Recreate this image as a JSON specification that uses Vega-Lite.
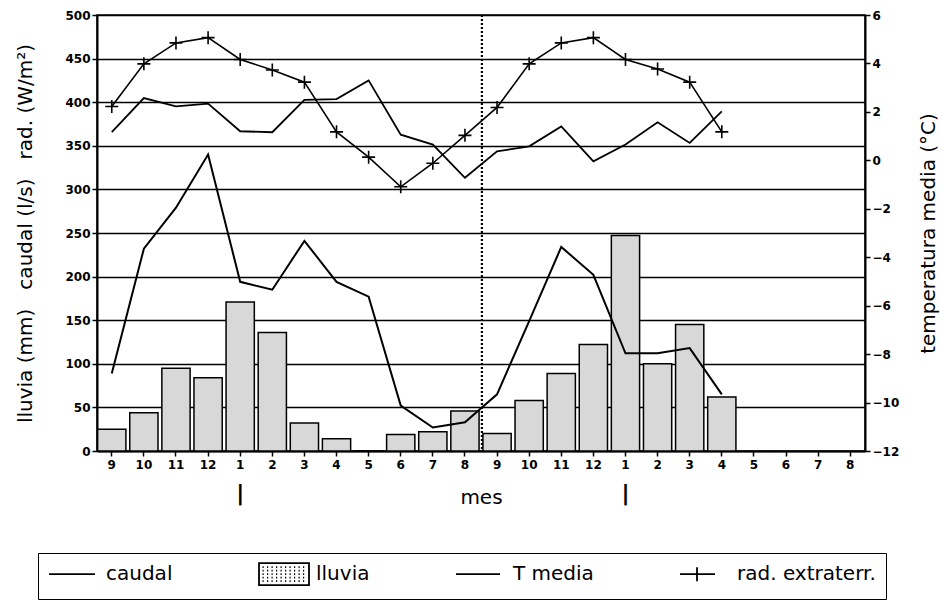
{
  "$schema": "https://vega.github.io/schema/vega-lite/v6.json",
  "width": 768,
  "height": 436,
  "autosize": {"type": "none"},
  "padding": {"left": 97, "top": 15, "right": 77, "bottom": 150},
  "datasets": {
    "d": [
      {"m": "9-a", "lluvia": 25, "caudal": 89, "tmedia": 1.16, "rad": 395},
      {"m": "10-a", "lluvia": 44, "caudal": 232, "tmedia": 2.57, "rad": 444},
      {"m": "11-a", "lluvia": 95, "caudal": 279, "tmedia": 2.23, "rad": 468},
      {"m": "12-a", "lluvia": 84, "caudal": 340, "tmedia": 2.34, "rad": 474},
      {"m": "1-a", "lluvia": 171, "caudal": 194, "tmedia": 1.2, "rad": 449},
      {"m": "2-a", "lluvia": 136, "caudal": 185, "tmedia": 1.16, "rad": 437},
      {"m": "3-a", "lluvia": 32, "caudal": 241, "tmedia": 2.5, "rad": 423},
      {"m": "4-a", "lluvia": 14, "caudal": 194, "tmedia": 2.53, "rad": 366},
      {"m": "5-a", "lluvia": 0, "caudal": 177, "tmedia": 3.3, "rad": 337},
      {"m": "6-a", "lluvia": 19, "caudal": 52, "tmedia": 1.06, "rad": 303},
      {"m": "7-a", "lluvia": 22, "caudal": 27, "tmedia": 0.65, "rad": 330},
      {"m": "8-a", "lluvia": 46, "caudal": 33, "tmedia": -0.72, "rad": 362},
      {"m": "9-b", "lluvia": 20, "caudal": 65, "tmedia": 0.37, "rad": 394},
      {"m": "10-b", "lluvia": 58, "caudal": 149, "tmedia": 0.58, "rad": 444},
      {"m": "11-b", "lluvia": 89, "caudal": 234, "tmedia": 1.4, "rad": 468},
      {"m": "12-b", "lluvia": 122, "caudal": 202, "tmedia": -0.04, "rad": 474},
      {"m": "1-b", "lluvia": 247, "caudal": 112, "tmedia": 0.65, "rad": 449},
      {"m": "2-b", "lluvia": 100, "caudal": 112, "tmedia": 1.57, "rad": 438},
      {"m": "3-b", "lluvia": 145, "caudal": 118, "tmedia": 0.72, "rad": 423},
      {"m": "4-b", "lluvia": 62, "caudal": 65, "tmedia": 2.02, "rad": 366}
    ],
    "leg": [
      {"serie": "caudal"},
      {"serie": "lluvia"},
      {"serie": "T media"},
      {"serie": "rad. extraterr."}
    ]
  },
  "data": {"name": "d"},
  "layer": [
    {
      "layer": [
        {
          "mark": {"type": "bar", "fill": "#d8d8d8", "stroke": "black", "strokeWidth": 1.5},
          "encoding": {
            "x": {
              "field": "m", "type": "ordinal",
              "scale": {"domain": ["9-a","10-a","11-a","12-a","1-a","2-a","3-a","4-a","5-a","6-a","7-a","8-a","9-b","10-b","11-b","12-b","1-b","2-b","3-b","4-b","5-b","6-b","7-b","8-b"], "paddingInner": 0.12, "paddingOuter": 0.02},
              "axis": {
                "title": "mes",
                "labelExpr": "split(datum.value, '-')[0]",
                "labelAngle": 0,
                "labelFontSize": 12,
                "labelFontWeight": "bold",
                "labelPadding": 3,
                "labelBaseline": "top",
                "tickSize": 5,
                "tickWidth": 1.5,
                "titleFontSize": 20,
                "titleFontWeight": "normal",
                "titleY": 46,
                "titleBaseline": "middle"
              }
            },
            "y": {
              "field": "lluvia", "type": "quantitative",
              "scale": {"domain": [0, 500], "nice": false, "zero": true},
              "axis": {
                "title": "lluvia (mm)\u00a0\u00a0 caudal (l/s)\u00a0\u00a0 rad. (W/m²)",
                "values": [0, 50, 100, 150, 200, 250, 300, 350, 400, 450, 500],
                "grid": true,
                "gridColor": "black",
                "gridWidth": 1.3,
                "gridOpacity": 1,
                "labelFontSize": 12,
                "labelFontWeight": "bold",
                "labelPadding": 2,
                "tickSize": 5,
                "tickWidth": 1.5,
                "titleFontSize": 20,
                "titleFontWeight": "normal",
                "titleAngle": 270,
                "titleX": -72,
                "titleBaseline": "middle"
              }
            }
          }
        },
        {
          "mark": {"type": "line", "color": "black", "strokeWidth": 2},
          "encoding": {
            "x": {"field": "m", "type": "ordinal"},
            "y": {"field": "caudal", "type": "quantitative", "title": "lluvia (mm)\u00a0\u00a0 caudal (l/s)\u00a0\u00a0 rad. (W/m²)"}
          }
        },
        {
          "mark": {"type": "line", "color": "black", "strokeWidth": 1.6},
          "encoding": {
            "x": {"field": "m", "type": "ordinal"},
            "y": {"field": "rad", "type": "quantitative", "title": "lluvia (mm)\u00a0\u00a0 caudal (l/s)\u00a0\u00a0 rad. (W/m²)"}
          }
        },
        {
          "mark": {"type": "point", "shape": "M-1,0H1M0,-1V1", "size": 169, "filled": false, "stroke": "black", "strokeWidth": 1.6, "opacity": 1},
          "encoding": {
            "x": {"field": "m", "type": "ordinal"},
            "y": {"field": "rad", "type": "quantitative", "title": "lluvia (mm)\u00a0\u00a0 caudal (l/s)\u00a0\u00a0 rad. (W/m²)"}
          }
        },
        {
          "data": {"values": [{}]},
          "mark": {"type": "rule", "color": "black", "strokeWidth": 2.2, "strokeDash": [2, 2], "xOffset": -1},
          "encoding": {
            "x": {"datum": "9-b", "type": "ordinal", "bandPosition": 0}
          }
        },
        {
          "data": {"name": "leg"},
          "mark": {"type": "point", "opacity": 0, "filled": false, "stroke": "black", "strokeWidth": 1.8},
          "encoding": {
            "shape": {
              "field": "serie", "type": "nominal",
              "scale": {
                "domain": ["caudal", "lluvia", "T media", "rad. extraterr."],
                "range": [
                  "M-1,-1.1h0M-1,1.1h0M-1,0H3.6",
                  "M-1,-1.1H4V1.1H-1ZM-0.65,-0.7h0.12m0.33,0h0.12m0.33,0h0.12m0.33,0h0.12m0.33,0h0.12m0.33,0h0.12m0.33,0h0.12m0.33,0h0.12m0.33,0h0.12m0.33,0h0.12M-0.65,-0.35h0.12m0.33,0h0.12m0.33,0h0.12m0.33,0h0.12m0.33,0h0.12m0.33,0h0.12m0.33,0h0.12m0.33,0h0.12m0.33,0h0.12m0.33,0h0.12M-0.65,0h0.12m0.33,0h0.12m0.33,0h0.12m0.33,0h0.12m0.33,0h0.12m0.33,0h0.12m0.33,0h0.12m0.33,0h0.12m0.33,0h0.12m0.33,0h0.12M-0.65,0.35h0.12m0.33,0h0.12m0.33,0h0.12m0.33,0h0.12m0.33,0h0.12m0.33,0h0.12m0.33,0h0.12m0.33,0h0.12m0.33,0h0.12m0.33,0h0.12M-0.65,0.7h0.12m0.33,0h0.12m0.33,0h0.12m0.33,0h0.12m0.33,0h0.12m0.33,0h0.12m0.33,0h0.12m0.33,0h0.12m0.33,0h0.12m0.33,0h0.12",
                  "M-1,-1.1h0M-1,1.1h0M-1,0H3.4",
                  "M-1,-1.1h0M-1,1.1h0M-1,0H2.5M0.7,-0.7V0.7"
                ]
              },
              "legend": {
                "title": null,
                "orient": "none",
                "legendX": -59,
                "legendY": 538,
                "direction": "horizontal",
                "columns": 4,
                "columnPadding": 82,
                "padding": 10,
                "strokeColor": "black",
                "symbolSize": 400,
                "symbolStrokeWidth": 1.8,
                "symbolStrokeColor": "black",
                "labelFontSize": 20,
                "labelOffset": 36,
                "labelColor": "black",
                "encode": {
                  "symbols": {"update": {"opacity": {"value": 1}, "stroke": {"value": "black"}, "strokeWidth": {"value": 1.8}}}
                }
              }
            }
          }
        }
      ]
    },
    {
      "mark": {"type": "line", "color": "black", "strokeWidth": 1.8},
      "encoding": {
        "x": {
          "field": "m", "type": "ordinal",
          "axis": {
            "orient": "bottom",
            "title": null,
            "labelExpr": "datum.value == '1-a' || datum.value == '1-b' ? '|' : ''",
            "domain": false,
            "ticks": false,
            "grid": false,
            "labelAngle": 0,
            "labelFontSize": 22,
            "labelFontWeight": "bold",
            "labelPadding": 31,
            "labelBaseline": "top"
          }
        },
        "y": {
          "field": "tmedia", "type": "quantitative",
          "scale": {"domain": [-12, 6], "nice": false, "zero": false},
          "axis": {
            "orient": "right",
            "title": "temperatura media (°C)",
            "values": [-12, -10, -8, -6, -4, -2, 0, 2, 4, 6],
            "grid": false,
            "labelFontSize": 12,
            "labelFontWeight": "bold",
            "labelPadding": 2,
            "tickSize": 5,
            "tickWidth": 1.5,
            "titleFontSize": 20,
            "titleFontWeight": "normal",
            "titleAngle": 270,
            "titleX": 63,
            "titleBaseline": "middle"
          }
        }
      }
    }
  ],
  "resolve": {"scale": {"y": "independent"}, "axis": {"x": "independent"}},
  "config": {
    "font": "DejaVu Sans",
    "view": {"stroke": "black", "strokeWidth": 1.5},
    "axis": {
      "domainColor": "black",
      "domainWidth": 2,
      "tickColor": "black",
      "labelColor": "black",
      "titleColor": "black",
      "labelFont": "DejaVu Sans",
      "titleFont": "DejaVu Sans"
    },
    "legend": {"labelFont": "DejaVu Sans"}
  }
}
